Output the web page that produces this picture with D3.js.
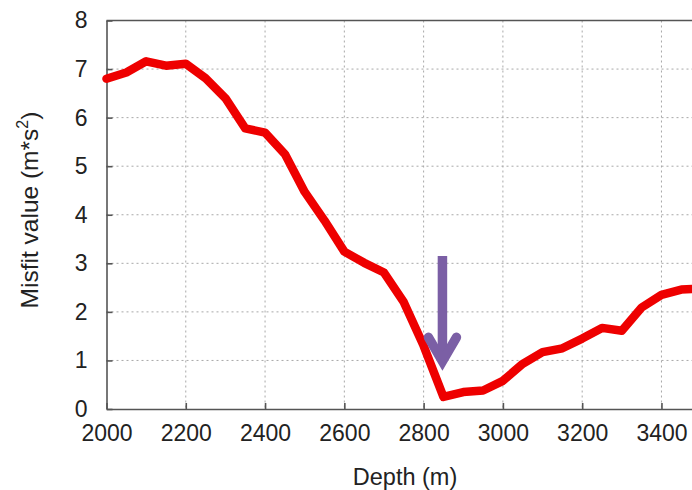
<!DOCTYPE html>
<html>
<head>
<meta charset="utf-8">
<script src="https://cdn.jsdelivr.net/npm/d3@7"></script>
<style>
  html, body { margin: 0; padding: 0; background: #fff; }
  svg { display: block; }
  text { font-family: "Liberation Sans", Arial, sans-serif; fill: #222; }
</style>
</head>
<body>
<svg id="chart" width="692" height="490"></svg>
<script>
// Data
const depths = [2000,2050,2100,2150,2200,2250,2300,2350,2400,2450,2500,2550,2600,2650,2700,2750,2800,2850,2900,2950,3000,3050,3100,3150,3200,3250,3300,3350,3400,3450,3500];
const misfit = [6.80,6.93,7.16,7.07,7.11,6.81,6.40,5.78,5.69,5.25,4.47,3.88,3.24,3.01,2.81,2.20,1.30,0.25,0.35,0.38,0.58,0.93,1.17,1.25,1.45,1.67,1.61,2.09,2.35,2.46,2.48];
const xTicks = [2000,2200,2400,2600,2800,3000,3200,3400];
const yTicks = [0,1,2,3,4,5,6,7,8];
const arrowDepth = 2850;
const arrowFrom = 3.15;
const arrowTo = 0.9;

const svg = d3.select("#chart");
const mLeft = 106.5, mTop = 20.5, mBottom = 409;
const x = d3.scaleLinear().domain([2000, 3500]).range([mLeft, mLeft + 1500 * 0.3964]);
const y = d3.scaleLinear().domain([0, 8]).range([mBottom, mTop]);

// grid
const grid = svg.append("g");
grid.selectAll("line.gx").data(xTicks.slice(1)).join("line")
  .attr("x1", d => x(d)).attr("x2", d => x(d))
  .attr("y1", mTop).attr("y2", mBottom)
  .attr("stroke", "#a8a8a8").attr("stroke-width", 1).attr("stroke-dasharray", "2,3");
grid.selectAll("line.gy").data(yTicks.slice(1, -1)).join("line")
  .attr("x1", mLeft).attr("x2", 692)
  .attr("y1", d => y(d)).attr("y2", d => y(d))
  .attr("stroke", "#a8a8a8").attr("stroke-width", 1).attr("stroke-dasharray", "2,3");

// axes
const xAxis = d3.axisBottom(x).tickValues(xTicks).tickSizeInner(-6).tickSizeOuter(0).tickPadding(16).tickFormat(d3.format("d"));
const yAxis = d3.axisLeft(y).tickValues(yTicks).tickSizeInner(-6).tickSizeOuter(0).tickPadding(19).tickFormat(d3.format("d"));

const gx = svg.append("g").attr("transform", `translate(0,${mBottom})`).call(xAxis);
const gy = svg.append("g").attr("transform", `translate(${mLeft},0)`).call(yAxis);
[gx, gy].forEach(g => {
  g.select(".domain").attr("stroke", "#555").attr("stroke-width", 1.6);
  g.selectAll(".tick line").attr("stroke", "#555").attr("stroke-width", 1.6);
  g.selectAll(".tick text").attr("font-size", 23).attr("fill", "#222")
    .attr("font-family", '"Liberation Sans", Arial, sans-serif');
});
gx.selectAll(".tick text").attr("dy", "0.71em");

// top frame line
svg.append("line").attr("x1", mLeft).attr("x2", 692).attr("y1", mTop).attr("y2", mTop)
  .attr("stroke", "#555").attr("stroke-width", 1.6);

// the misfit line
const line = d3.line().x((d, i) => x(depths[i])).y(d => y(d));
svg.append("path").datum(misfit)
  .attr("d", line)
  .attr("fill", "none").attr("stroke", "#ee0000").attr("stroke-width", 8.5)
  .attr("stroke-linejoin", "round").attr("stroke-linecap", "round");

// arrow annotation
const ax = x(arrowDepth) - 1;
const ay1 = y(arrowFrom), ay2 = y(arrowTo);
const arrow = svg.append("g").attr("stroke", "#7b5fa5").attr("fill", "none").attr("stroke-width", 9.5);
arrow.append("line").attr("x1", ax).attr("x2", ax).attr("y1", ay1).attr("y2", ay2 - 6);
arrow.append("path")
  .attr("d", `M${ax - 14},${ay2 - 28} L${ax},${ay2 - 4} L${ax + 14},${ay2 - 28}`)
  .attr("stroke-linejoin", "miter").attr("stroke-linecap", "round");

// axis labels
svg.append("text").attr("x", 405).attr("y", 485).attr("text-anchor", "middle")
  .attr("font-size", 23.5).text("Depth (m)");

const yl = svg.append("text").attr("transform", "translate(38,210) rotate(-90)")
  .attr("text-anchor", "middle").attr("font-size", 24.5);
yl.append("tspan").text("Misfit value (m*s");
yl.append("tspan").attr("font-size", 16).attr("dy", -10).text("2");
yl.append("tspan").attr("dy", 10).text(")");
</script>
</body>
</html>
